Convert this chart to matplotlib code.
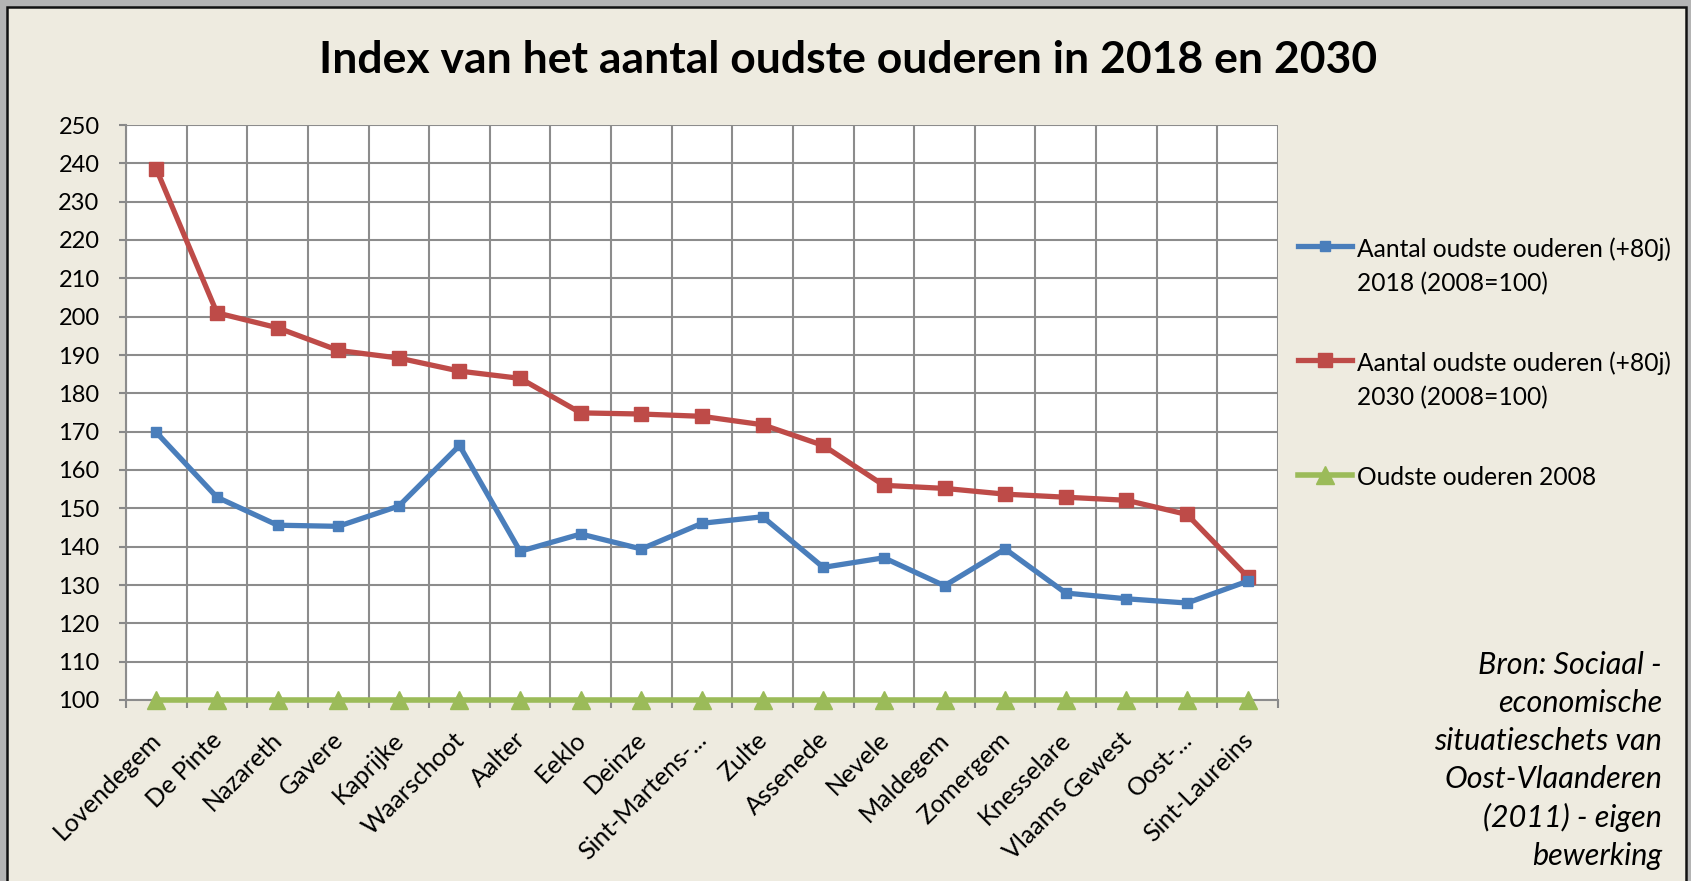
import matplotlib
matplotlib.use("Agg")
import matplotlib.pyplot as plt
from matplotlib.patches import Rectangle
import matplotlib.transforms as mtrans
import numpy as np

categories = ["Lovendegem", "De Pinte", "Nazareth", "Gavere", "Kaprijke", "Waarschoot",
              "Aalter", "Eeklo", "Deinze", "Sint-Martens-...", "Zulte", "Assenede",
              "Nevele", "Maldegem", "Zomergem", "Knesselare", "Vlaams Gewest", "Oost-...",
              "Sint-Laureins"]
idx_2018 = [169.8, 152.9, 145.6, 145.3, 150.6, 166.4, 138.8, 143.3, 139.4, 146.1,
            147.8, 134.6, 137.1, 129.8, 139.4, 127.9, 126.4, 125.3, 131.0]
idx_2030 = [238.5, 201.0, 197.1, 191.2, 189.2, 185.8, 183.9, 174.9, 174.6, 174.0,
            171.8, 166.4, 156.0, 155.2, 153.7, 152.9, 152.1, 148.4, 132.1]
idx_2008 = [100] * 19
labels = ["Aantal oudste ouderen (+80j)\n2018 (2008=100)",
          "Aantal oudste ouderen (+80j)\n2030 (2008=100)",
          "Oudste ouderen 2008"]
yticks = list(range(100, 251, 10))
title = "Index van het aantal oudste ouderen in 2018 en 2030"
source = "Bron: Sociaal -\neconomische\nsituatieschets van\nOost-Vlaanderen\n(2011) - eigen\nbewerking"

FONT = ["Lato", "DejaVu Sans"]
plt.rcParams['font.family'] = FONT

W, H = 1691, 881
fig = plt.figure(figsize=(W / 100, H / 100), dpi=100)
fig.patch.set_facecolor("#b4b4b4")
bg = Rectangle((7 / W, -0.01), (1686 - 7) / W, 1.01 - 7 / H, transform=fig.transFigure,
               facecolor="#EEEBE0", edgecolor="#111111", linewidth=1.8, zorder=-10)
fig.patches.append(bg)

ax = fig.add_axes([126 / W, 1 - 700 / H, (1278 - 126) / W, (700 - 125) / H])
ax.set_zorder(1)
ax.set_facecolor("white")
x = np.arange(len(categories))
ax.plot(x, idx_2018, color="#4A7EBB", lw=3.8, marker="s", ms=6.5, label=labels[0], zorder=4, clip_on=False)
ax.plot(x, idx_2030, color="#BE4B48", lw=3.8, marker="s", ms=9.5, label=labels[1], zorder=3, clip_on=False)
ax.plot(x, idx_2008, color="#9BBB59", lw=4.0, marker="^", ms=13, label=labels[2], zorder=5, clip_on=False)

ax.set_xlim(-0.5, len(categories) - 0.5)
ax.set_ylim(100, 250)
ax.set_yticks(yticks)
ax.set_yticklabels([str(v) for v in yticks], fontsize=17)
ax.set_xticks(np.arange(len(categories) + 1) - 0.5, minor=False)
ax.set_xticklabels([])
ax.set_xticks(x, minor=True)
ax.set_xticklabels(categories, minor=True, rotation=45, ha="right", rotation_mode="anchor", fontsize=18)
ax.tick_params(axis="x", which="minor", length=0, pad=20)
ax.tick_params(axis="x", which="major", length=6, color="#888888", width=1.5, direction="out")
ax.tick_params(axis="y", length=5, color="#888888", width=1.5, direction="out", pad=14)
ax.grid(True, which="major", color="#8c8c8c", lw=1.5)
for s in ["top", "right"]:
    ax.spines[s].set_visible(False)
for s in ["left", "bottom"]:
    ax.spines[s].set_color("#8c8c8c")
    ax.spines[s].set_linewidth(1.5)
ax.set_axisbelow(True)

offset = mtrans.ScaledTranslation(-7 / 100, 0, fig.dpi_scale_trans)
for lab in ax.xaxis.get_minorticklabels():
    lab.set_transform(lab.get_transform() + offset)

fig.text(848 / W, 1 - 60 / H, title, ha="center", va="center", fontsize=32, fontweight="bold")

leg = fig.legend(loc="upper left", bbox_to_anchor=(1298 / W, 1 - 237 / H), frameon=False,
                 fontsize=17.7, handlelength=2.2, handletextpad=0.2, labelspacing=2.3,
                 borderpad=0, borderaxespad=0)
for t in leg.get_texts():
    t.set_linespacing(1.58)
for hp in leg._legend_handle_box.get_children():
    for c in hp.get_children():
        c.align = "top"

fig.text(1662 / W, 1 - 651 / H, source, ha="right", va="top", fontsize=22, style="italic",
         linespacing=1.43)

fig.savefig("out.png", dpi=100, facecolor=fig.get_facecolor())
